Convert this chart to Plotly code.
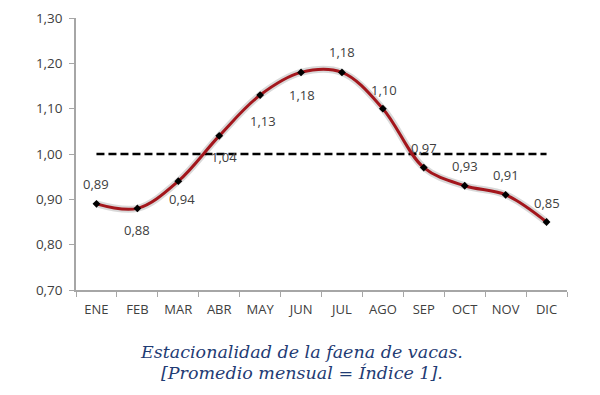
import plotly.graph_objects as go

months = ["ENE", "FEB", "MAR", "ABR", "MAY", "JUN", "JUL", "AGO", "SEP", "OCT", "NOV", "DIC"]
values = [0.89, 0.88, 0.94, 1.04, 1.13, 1.18, 1.18, 1.10, 0.97, 0.93, 0.91, 0.85]
ref_x = ["ENE", "DIC"]
ref_y = [1.0, 1.0]
y_ticks = [0.70, 0.80, 0.90, 1.00, 1.10, 1.20, 1.30]
caption = ["Estacionalidad de la faena de vacas.", "[Promedio mensual = Índice 1]."]

# label placement: pixel shifts of each value label relative to its point
label_dx = [0, 0, 4, 5, 3, 1, 0, 1, 0, 0, 0, 0]
label_dy = [20, -22, -18, -21, -26, -23, 20, 19, 20, 20, 20, 19]

labels = [f"{v:.2f}".replace(".", ",") for v in values]

fig = go.Figure()
fig.add_trace(go.Scatter(
    x=months, y=values, mode="lines",
    line=dict(color="rgba(0,0,0,0.15)", width=7, shape="spline", smoothing=1),
    hoverinfo="skip", showlegend=False))
fig.add_trace(go.Scatter(
    x=ref_x, y=ref_y, mode="lines",
    line=dict(color="black", width=2.5, dash="8px,4px"),
    hoverinfo="skip", showlegend=False))
fig.add_trace(go.Scatter(
    x=months, y=values, mode="lines+markers",
    line=dict(color="#a3161c", width=3, shape="spline", smoothing=1),
    marker=dict(symbol="diamond", size=6, color="black"),
    showlegend=False))

for m, v, t, dx, dy in zip(months, values, labels, label_dx, label_dy):
    fig.add_annotation(
        x=m, y=v, text=t, showarrow=False, xanchor="center", yanchor="middle",
        xshift=dx, yshift=dy,
        font=dict(family="Open Sans", size=13, color="#404040"))

fig.update_layout(
    width=600, height=395,
    margin=dict(l=68, r=41, t=10, b=113),
    paper_bgcolor="white", plot_bgcolor="white",
    separators=",.",
    font=dict(family="Open Sans", size=13, color="#404040"),
    xaxis=dict(
        type="category", categoryorder="array", categoryarray=months,
        range=[-0.5, 11.5], automargin=False,
        showline=True, linecolor="#a6a6a6", linewidth=1.5,
        ticks="outside", tickson="boundaries", ticklen=5, tickcolor="#a6a6a6",
        ticklabelstandoff=7,
        showgrid=False, zeroline=False,
        tickfont=dict(family="Open Sans", size=13, color="#404040")),
    yaxis=dict(
        range=[0.70, 1.30], tickvals=y_ticks, tickformat=".2f", automargin=False,
        showline=True, linecolor="#a6a6a6", linewidth=1.5,
        ticks="outside", ticklen=5, tickcolor="#a6a6a6",
        ticklabelstandoff=4,
        showgrid=False, zeroline=False,
        tickfont=dict(family="Open Sans", size=13.5, color="#404040")),
)

for i, line in enumerate(caption):
    fig.add_annotation(
        text=f"<i>{line}</i>", xref="paper", yref="paper",
        x=0.46, y=0, xanchor="center", yanchor="middle",
        yshift=-62 - 21 * i, showarrow=False,
        font=dict(family="DejaVu Serif", size=17.5, color="#1f3c74"))

fig.write_html("out.html")
